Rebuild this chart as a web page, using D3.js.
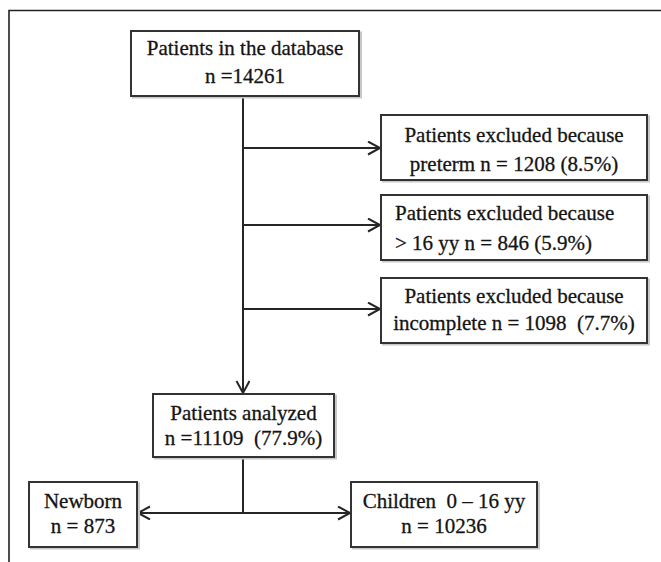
<!DOCTYPE html>
<html>
<head>
<meta charset="utf-8">
<script src="https://cdn.jsdelivr.net/npm/d3@7/dist/d3.min.js"></script>
<style>
  html, body { margin: 0; padding: 0; background: #fff; }
  svg { display: block; }
</style>
</head>
<body>
<script>
// ---------------- data ----------------
const sourceLabel = "Patients in the database";
const sourceN = 14261;
const exclusionReasons = ["preterm", "> 16 yy", "incomplete"];
const exclusionN = [1208, 846, 1098];
const exclusionPct = ["8.5%", "5.9%", "7.7%"];
const analyzedLabel = "Patients analyzed";
const analyzedN = 11109;
const analyzedPct = "77.9%";
const groupLabels = ["Newborn", "Children  0 \u2013 16 yy"];
const groupN = [873, 10236];

// ---------------- layout ----------------
const W = 661, H = 562;
const svg = d3.select("body").append("svg").attr("width", W).attr("height", H);

const x = d3.scaleLinear().domain([0, 1]).range([0, W]);
const y = d3.scaleLinear().domain([0, 1]).range([0, H]);
const px = v => x(v / W), py = v => y(v / H);

const fontSize = 21;
const fontFamily = "'Liberation Serif', Tinos, 'Times New Roman', 'DejaVu Serif', serif";
const ink = "#262626";

svg.append("defs").append("marker")
  .attr("id", "chev").attr("markerUnits", "userSpaceOnUse")
  .attr("markerWidth", 16).attr("markerHeight", 16)
  .attr("refX", 13).attr("refY", 7).attr("orient", "auto")
  .append("path").attr("d", "M1,0.5 L13,7 L1,13.5")
  .attr("fill", "none").attr("stroke", ink).attr("stroke-width", 2);

// outer frame (open on right & bottom)
svg.append("path")
  .attr("d", `M${px(9)},${py(H)} L${px(9)},${py(10.5)} L${px(W)},${py(10.5)}`)
  .attr("fill", "none").attr("stroke", "#222").attr("stroke-width", 1.6);

function box(x0, y0, x1, y1, lines, baselines, align, padLeft) {
  svg.append("rect").attr("x", px(x0) + 2).attr("y", py(y0) + 1.5)
    .attr("width", px(x1 - x0)).attr("height", py(y1 - y0))
    .attr("fill", "none").attr("stroke", "#c8c8c8").attr("stroke-width", 2);
  svg.append("rect").attr("x", px(x0)).attr("y", py(y0))
    .attr("width", px(x1 - x0)).attr("height", py(y1 - y0))
    .attr("fill", "#fff").attr("stroke", "#333").attr("stroke-width", 2);
  lines.forEach((t, i) => {
    svg.append("text")
      .attr("x", align === "start" ? px(x0 + padLeft) : px((x0 + x1) / 2))
      .attr("y", py(baselines[i]))
      .attr("text-anchor", align)
      .attr("font-family", fontFamily)
      .attr("font-size", fontSize)
      .attr("fill", "#141414")
      .attr("stroke", "#141414")
      .attr("stroke-width", 0.3)
      .style("white-space", "pre")
      .text(t);
  });
}

function line(pts, arrow) {
  const p = svg.append("path")
    .attr("d", d3.line()(pts.map(d => [px(d[0]), py(d[1])])))
    .attr("fill", "none").attr("stroke", ink).attr("stroke-width", 2);
  if (arrow) p.attr("marker-end", "url(#chev)");
}

// connectors
const spineX = 243;
line([[spineX, 96], [spineX, 393]], true);
const exclBoxes = [[115, 180], [195, 260], [278, 343]];
const exclArrowY = [148, 225, 309];
exclArrowY.forEach(yy => line([[spineX, yy], [380, yy]], true));
line([[spineX, 457], [spineX, 513]], false);
line([[spineX, 513], [138, 513]], true);
line([[spineX, 513], [350, 513]], true);

// boxes
box(131, 31, 359, 96, [sourceLabel, "n =" + sourceN], [55, 83], "middle");

const exclBaselines = [[142, 171], [220, 250], [303, 330]];
const exclAlign = ["middle", "start", "middle"];
exclusionReasons.forEach((r, i) => {
  const l2 = r + " n = " + exclusionN[i] + (i === 2 ? "  (" : " (") + exclusionPct[i] + ")";
  box(381, exclBoxes[i][0], 647, exclBoxes[i][1],
      ["Patients excluded because", l2], exclBaselines[i], exclAlign[i], 14);
});

box(153, 394, 334, 457, [analyzedLabel, "n =" + analyzedN + "  (" + analyzedPct + ")"], [420, 445], "middle");

const groupBoxes = [[29, 137], [351, 537]];
groupLabels.forEach((g, i) => {
  box(groupBoxes[i][0], 482, groupBoxes[i][1], 547, [g, "n = " + groupN[i]], [508, 533], "middle");
});
</script>
</body>
</html>
